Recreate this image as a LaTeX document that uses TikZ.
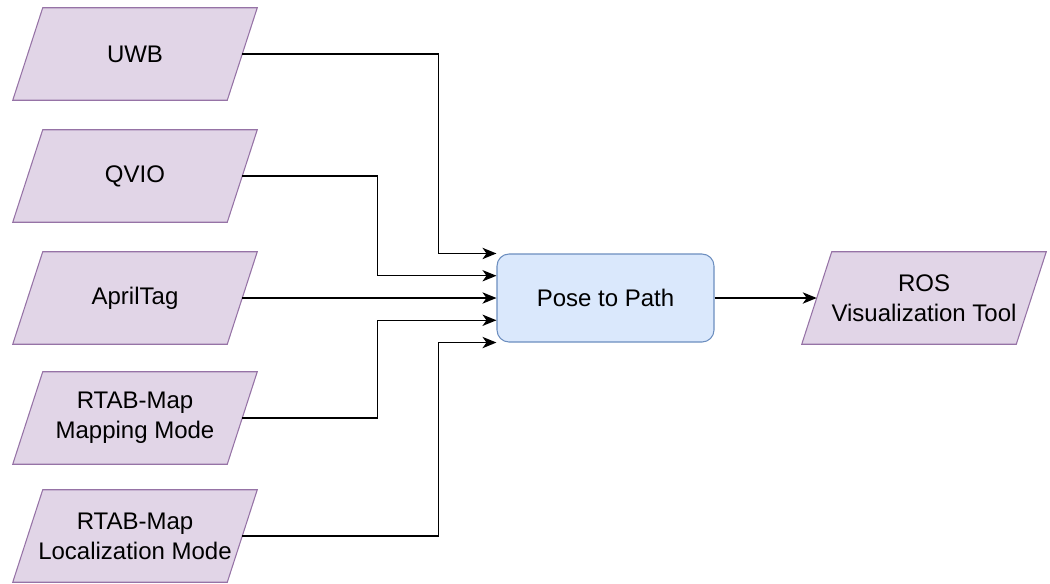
\documentclass[tikz,border=0pt]{standalone}
\usepackage{fontspec}
\setmainfont{Liberation Sans}
\usetikzlibrary{arrows.meta,calc}
\pgfdeclarelayer{background}
\pgfsetlayers{background,main}
\definecolor{parafill}{HTML}{E1D5E7}
\definecolor{paradraw}{HTML}{9673A6}
\definecolor{boxfill}{HTML}{DAE8FC}
\definecolor{boxdraw}{HTML}{6C8EBF}
\tikzset{
  txt/.style={font=\fontsize{18}{22.5}\selectfont, align=center, inner sep=0pt},
  paranode/.style={txt, minimum width=214*0.75pt, minimum height=92*0.75pt, draw=none},
  parashape/.style={fill=parafill, draw=paradraw, line width=0.8pt},
  procbox/.style={txt, minimum width=217*0.75pt, minimum height=88*0.75pt, rounded corners=9pt,
    fill=boxfill, draw=boxdraw, line width=0.8pt},
  conn/.style={line width=1.1pt, -{Stealth[length=10.5pt, width=8.5pt, inset=3pt]}}
}
\begin{document}
\begin{tikzpicture}[x=0.75pt,y=-0.75pt]
\useasboundingbox (0,0) rectangle (1050,583);
\node[paranode] (uwb)   at (135,54)  {UWB};
\node[paranode] (qvio)  at (135,176) {QVIO};
\node[paranode] (april) at (135,298) {AprilTag};
\node[paranode] (map)   at (135,418) {RTAB-Map\\Mapping Mode};
\node[paranode] (loc)   at (135,536) {RTAB-Map\\Localization Mode};
\node[paranode] (ros)   at (924,298) {ROS\\Visualization Tool};
\node[procbox]  (box)   at (605.5,298) {Pose to Path};
\begin{pgfonlayer}{background}
\foreach \n in {uwb,qvio,april,map,loc,ros}
  \draw[parashape] ($(\n.north west)+(15,0)$) -- ($(\n.north east)+(15,0)$)
     -- ($(\n.south east)+(-15,0)$) -- ($(\n.south west)+(-15,0)$) -- cycle;
\end{pgfonlayer}
\coordinate (t1) at (box.north west);
\coordinate (t2) at ($(box.north west)!0.25!(box.south west)$);
\coordinate (t3) at (box.west);
\coordinate (t4) at ($(box.north west)!0.75!(box.south west)$);
\coordinate (t5) at (box.south west);
\draw[conn] (uwb.east) -| ($(t1)+(-58,0)$) -- (t1);
\draw[conn] (qvio.east) -| ($(t2)+(-119,0)$) -- (t2);
\draw[conn] (april.east) -- (t3);
\draw[conn] (map.east) -| ($(t4)+(-119,0)$) -- (t4);
\draw[conn] (loc.east) -| ($(t5)+(-58,0)$) -- (t5);
\draw[conn] (box.east) -- (ros.west);
\end{tikzpicture}
\end{document}
